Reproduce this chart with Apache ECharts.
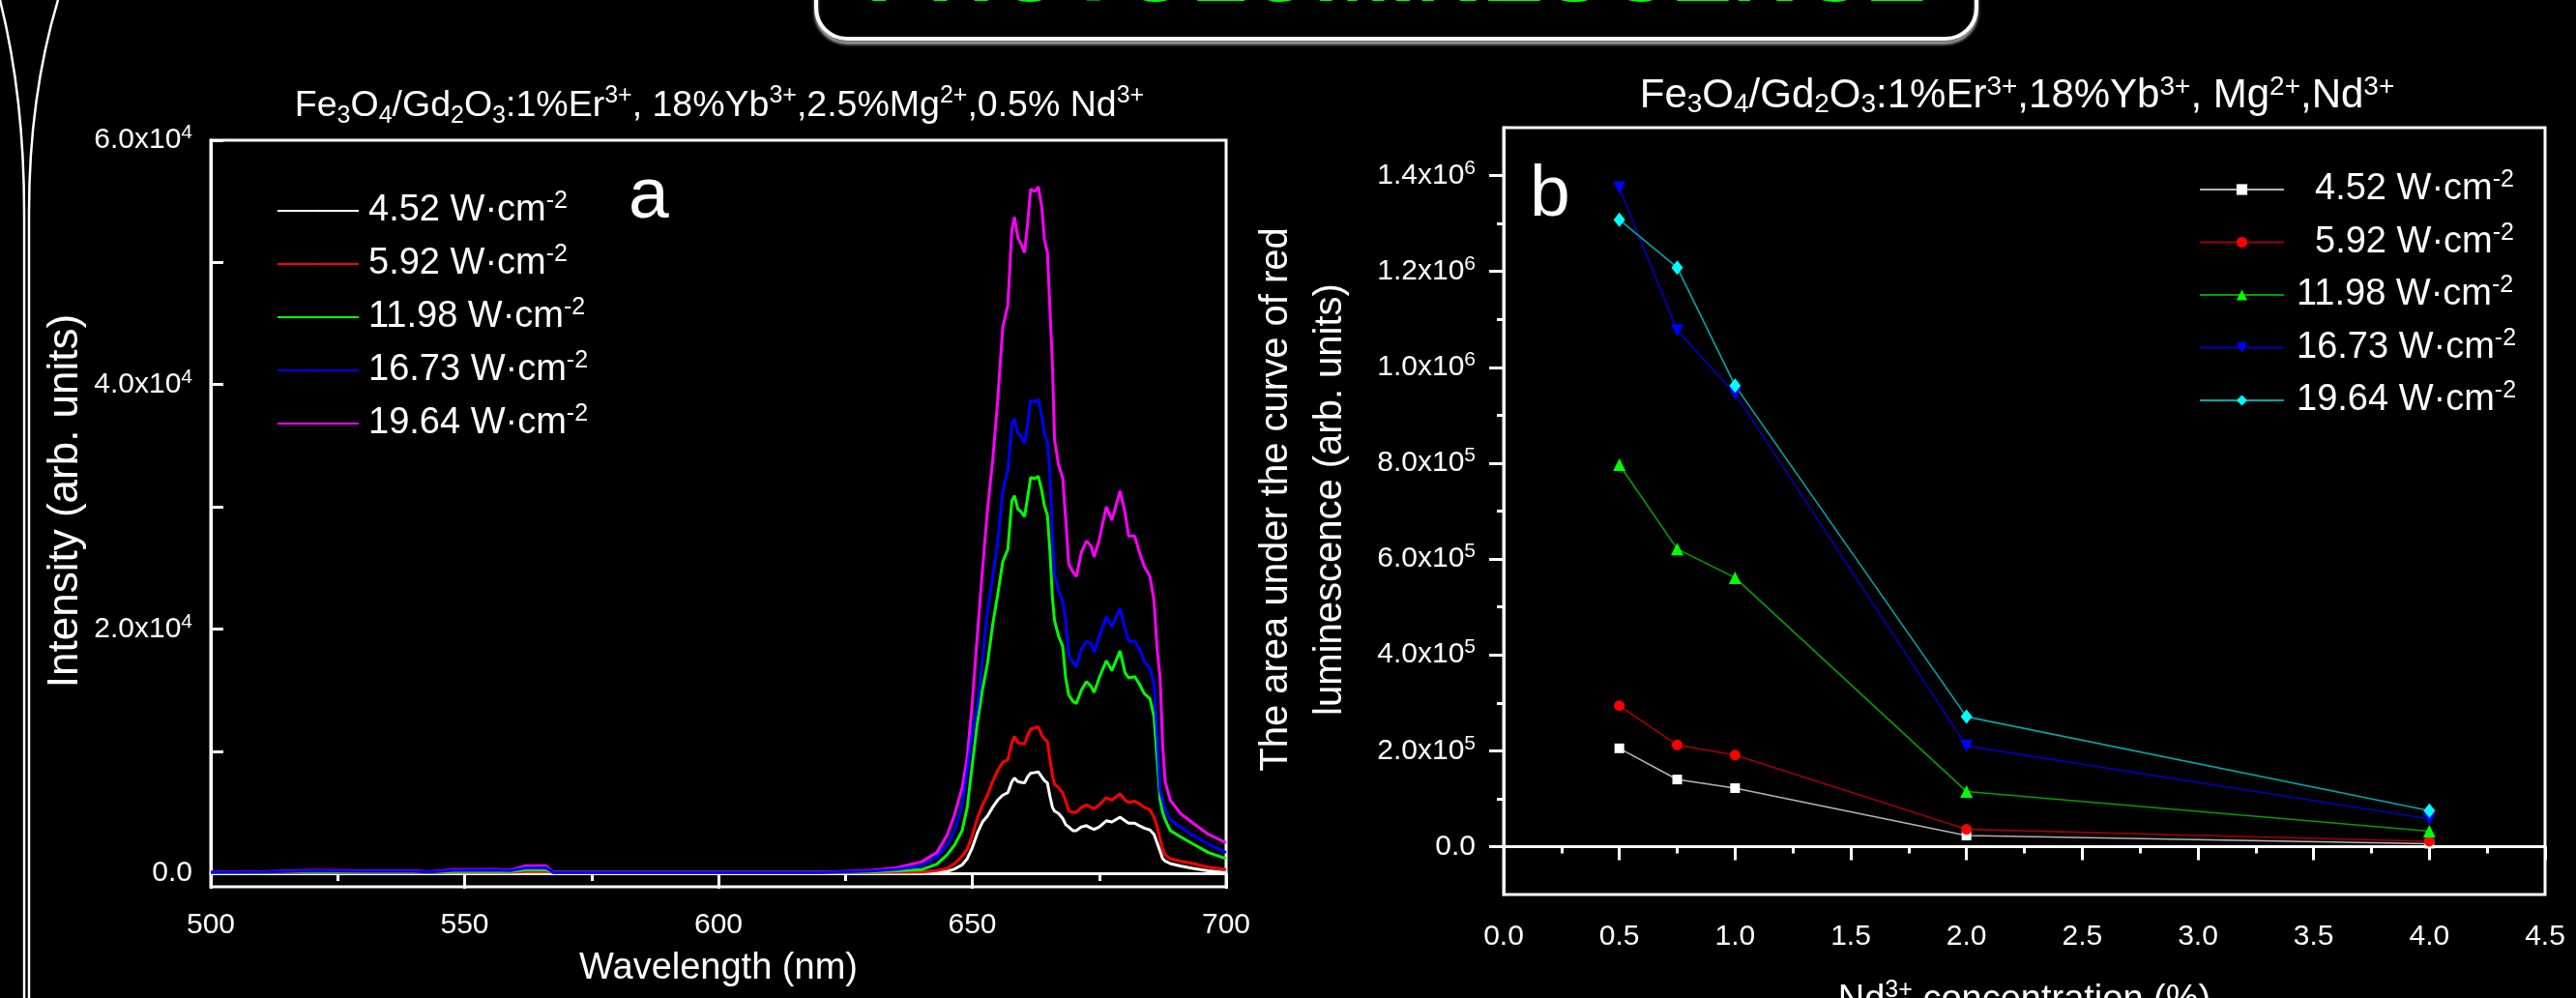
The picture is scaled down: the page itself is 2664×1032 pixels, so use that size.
<!DOCTYPE html>
<html>
<head>
<meta charset="utf-8">
<title>Photoluminescence</title>
<script src="https://cdn.jsdelivr.net/npm/echarts@6/dist/echarts.min.js"></script>
<style>
    html, body { margin: 0; padding: 0; background: #000; }
    #chart { width: 2664px; height: 1032px; }
</style>
</head>
<body>
<div id="chart"></div>
<script>
var FONT = 'Liberation Sans';

// ---- panel a: emission spectra ----
var wavelengths = [500, 510, 520, 530, 540, 543, 548, 556, 559, 562, 566, 567.5, 570, 580, 590, 600, 610, 620, 630, 635,
    640, 643, 645, 646.5, 648, 649, 650, 651, 652, 653,
    654, 655, 656, 657, 657.8, 658.3, 659, 659.6, 660.3, 660.9,
    661.5, 662.3, 663, 663.7, 664.2, 664.8, 665.3, 665.8, 666.2, 667,
    667.8, 668.4, 669, 669.8, 670.5, 671.5, 672.5, 673.4, 674, 675,
    676.4, 677.5, 679.1, 680.1, 680.8, 682, 682.9, 683.9, 685, 685.8,
    686.4, 687, 687.5, 688, 689, 691, 693.5, 696.5, 700];

var int452 = [40, 40, 50, 45, 45, 40, 55, 60, 55, 90, 100, 60, 60, 60, 60, 60, 60, 60, 60, 60,
    70, 100, 150, 350, 700, 1200, 2100, 3300, 4200, 4700,
    5400, 6000, 6400, 6600, 7500, 7800, 7500, 7450, 7400, 7900,
    8200, 8250, 8300, 7900, 7600, 7400, 6300, 5400, 5100, 4900,
    4500, 4000, 3800, 3500, 3500, 3800, 3900, 3700, 3600, 3800,
    4300, 4200, 4600, 4300, 4100, 4100, 3900, 3700, 3550, 3200,
    2500, 1800, 1200, 1000, 800, 600, 400, 200, 50];

var int592 = [40, 45, 70, 60, 60, 50, 80, 90, 80, 150, 170, 60, 60, 60, 60, 60, 60, 60, 70, 80,
    100, 220, 400, 800, 1400, 2000, 3100, 4500, 5600, 6400,
    7500, 8400, 9100, 9300, 10700, 11200, 10700, 10650, 10600, 11300,
    11800, 11900, 12000, 11300, 11000, 10800, 9300, 8000, 7300, 7000,
    6600, 5900, 5100, 5000, 5000, 5400, 5600, 5400, 5300, 5600,
    6200, 6000, 6500, 6000, 5800, 5900, 5700, 5400, 5200, 4600,
    3800, 2800, 2000, 1500, 1200, 1000, 800, 500, 300];

var int1198 = [50, 60, 120, 100, 100, 60, 150, 170, 140, 280, 300, 60, 60, 60, 60, 60, 60, 60, 110, 200,
    300, 750, 1500, 2300, 3500, 5400, 8900, 12300, 15000, 17200,
    20300, 22800, 25500, 26500, 30500, 30900, 29800, 29600, 29200, 30800,
    32400, 32300, 32500, 31300, 30100, 29300, 26300, 22500, 20700, 19400,
    18600, 16000, 14600, 14100, 13900, 15000, 15700, 15300, 14800, 16000,
    17400, 16600, 18200, 16400, 16000, 16100, 15500, 14700, 14300, 12800,
    9400, 6000, 5000, 4400, 3500, 3000, 2400, 1700, 1200];

var int1673 = [80, 100, 200, 160, 170, 100, 250, 270, 220, 450, 470, 70, 70, 70, 70, 70, 70, 70, 180, 330,
    600, 1300, 2300, 3500, 5500, 8400, 11500, 13700, 17500, 21500,
    24200, 27100, 31300, 33000, 36800, 37200, 36000, 35800, 35200, 36800,
    38700, 38600, 38800, 37400, 36000, 35300, 32600, 27600, 24500, 23100,
    22300, 20700, 17800, 17300, 16900, 18400, 19000, 18800, 18100, 19400,
    21000, 20200, 21700, 20000, 19000, 19000, 18400, 17300, 16800, 15500,
    11500, 6800, 6000, 5200, 4400, 3800, 3100, 2400, 1700];

var int1964 = [100, 120, 250, 200, 200, 120, 300, 320, 260, 600, 620, 70, 70, 70, 70, 70, 70, 70, 250, 450,
    950, 1700, 3100, 4800, 7000, 9500, 14000, 19500, 24800, 29800,
    33700, 38700, 44700, 46500, 52700, 53700, 52000, 51500, 50800, 53200,
    56000, 55800, 56200, 54500, 51900, 50800, 46100, 41500, 35500, 33400,
    32400, 29000, 25300, 24700, 24300, 26300, 27200, 26800, 25900, 27300,
    30000, 28900, 31300, 29500, 27600, 27600, 26300, 25100, 24300, 22300,
    18400, 16000, 10500, 7500, 6000, 4900, 4100, 3200, 2500];

var powers = ['4.52', '5.92', '11.98', '16.73', '19.64'];

// ---- panel b: integrated red emission ----
var ndConc = [0.5, 0.75, 1, 2, 4];
var area452 = [205000, 140000, 122000, 23000, 6000];
var area592 = [294000, 212000, 191000, 36000, 11000];
var area1198 = [797000, 621000, 561000, 115000, 32000];
var area1673 = [1375000, 1077000, 945000, 210000, 58000];
var area1964 = [1308000, 1208000, 962000, 271000, 75000];

// tick values
var yTicksA = [0, 10000, 20000, 30000, 40000, 50000, 60000];
var yLabelsA = [0, 20000, 40000, 60000];
var yLabelsB = [0, 200000, 400000, 600000, 800000, 1000000, 1200000, 1400000];
var yMinorB = [100000, 300000, 500000, 700000, 900000, 1100000, 1300000];

var chart = echarts.init(document.getElementById('chart'));

var tickRich = {
    m: {color: '#fff', fontSize: 30, fontFamily: FONT, lineHeight: 36},
    s: {color: '#fff', fontSize: 21, fontFamily: FONT, lineHeight: 18, verticalAlign: 'top'}
};

var formulaRich = function (size) {
    return {
        b: {color: '#fff', fontSize: size, fontFamily: FONT, lineHeight: 46},
        sub: {color: '#fff', fontSize: Math.round(size * 0.66), fontFamily: FONT, lineHeight: 12, verticalAlign: 'bottom'},
        sup: {color: '#fff', fontSize: Math.round(size * 0.66), fontFamily: FONT, lineHeight: 16, verticalAlign: 'top'}
    };
};

// 2.0x10^4 style labels
function sciLabel(v) {
    if (v === 0) {
        return '{m|0.0}';
    }
    var e = Math.floor(Math.log10(v) + 1e-9);
    var m = v / Math.pow(10, e);
    return '{m|' + m.toFixed(1) + 'x10}{s|' + e + '}';
}

function legendText(padShort, padLong) {
    var base = {color: '#fff', fontSize: 38, fontFamily: FONT, lineHeight: 44};
    return {
        color: '#fff',
        fontFamily: FONT,
        fontSize: 38,
        rich: {
            n: echarts.util.extend({padding: [0, 0, 0, padShort]}, base),
            w: echarts.util.extend({padding: [0, 0, 0, padLong]}, base),
            s: {color: '#fff', fontSize: 25, fontFamily: FONT, lineHeight: 19, verticalAlign: 'top'}
        }
    };
}

// "4.52 W·cm-2", short numbers get more left padding so panel b reads right aligned
function powerLabel(name) {
    var p = name.split('|')[1];
    var tag = p.length > 4 ? 'w' : 'n';
    return '{' + tag + '|' + p + ' W·cm}{s|-2}';
}

function spectrumSeries(power, values, color) {
    var pts = [];
    for (var i = 0; i < wavelengths.length; i++) {
        pts.push([wavelengths[i], values[i]]);
    }
    return {
        name: 'a|' + power,
        type: 'line',
        xAxisIndex: 0,
        yAxisIndex: 0,
        data: pts,
        symbol: 'none',
        lineStyle: {color: color, width: 3},
        itemStyle: {color: color},
        z: 3
    };
}

function areaSeries(power, values, lineColor, markColor, symbol, size, rotate) {
    var pts = [];
    for (var i = 0; i < ndConc.length; i++) {
        pts.push([ndConc[i], values[i]]);
    }
    return {
        name: 'b|' + power,
        type: 'line',
        xAxisIndex: 1,
        yAxisIndex: 1,
        data: pts,
        symbol: symbol,
        symbolSize: size,
        symbolRotate: rotate || 0,
        showAllSymbol: true,
        lineStyle: {color: lineColor, width: 1.6},
        itemStyle: {color: markColor},
        z: 3
    };
}

var whiteLine = {color: '#fff', width: 3};

var option = {
    backgroundColor: '#000',
    animation: false,
    title: [
        {
            text: '{b|Fe}{sub|3}{b|O}{sub|4}{b|/Gd}{sub|2}{b|O}{sub|3}{b|:1%Er}{sup|3+}{b|, 18%Yb}{sup|3+}{b|,2.5%Mg}{sup|2+}{b|,0.5% Nd}{sup|3+}',
            left: 744,
            top: 87,
            padding: 0,
            textAlign: 'center',
            textVerticalAlign: 'top',
            textStyle: {color: '#fff', fontSize: 37.5, fontFamily: FONT, fontWeight: 'normal', rich: formulaRich(37.5)}
        },
        {
            text: '{b|Fe}{sub|3}{b|O}{sub|4}{b|/Gd}{sub|2}{b|O}{sub|3}{b|:1%Er}{sup|3+}{b|,18%Yb}{sup|3+}{b|, Mg}{sup|2+}{b|,Nd}{sup|3+}',
            left: 2086,
            top: 76,
            padding: 0,
            textAlign: 'center',
            textVerticalAlign: 'top',
            textStyle: {color: '#fff', fontSize: 42, fontFamily: FONT, fontWeight: 'normal', rich: formulaRich(42)}
        }
    ],
    legend: [
        {
            data: powers.map(function (p) { return 'a|' + p; }),
            orient: 'vertical',
            left: 286,
            top: 196,
            padding: 0,
            itemWidth: 84,
            itemHeight: 3,
            itemGap: 14,
            selectedMode: false,
            formatter: function (name) { return '{n|' + name.split('|')[1] + ' W·cm}{s|-2}'; },
            textStyle: legendText(5, 5)
        },
        {
            data: powers.map(function (p) { return 'b|' + p; }),
            orient: 'vertical',
            left: 2274,
            top: 174,
            padding: 0,
            itemWidth: 87,
            itemHeight: 14,
            itemGap: 13.5,
            selectedMode: false,
            formatter: powerLabel,
            textStyle: legendText(27, 8)
        }
    ],
    grid: [
        {left: 218, top: 145, width: 1050, height: 772, show: true, borderColor: '#fff', borderWidth: 3, containLabel: false, outerBoundsMode: 'none'},
        {left: 1555, top: 132, width: 1077, height: 793, show: true, borderColor: '#fff', borderWidth: 3, containLabel: false, outerBoundsMode: 'none'}
    ],
    xAxis: [
        {
            gridIndex: 0,
            type: 'value',
            min: 500,
            max: 700,
            interval: 50,
            axisLine: {lineStyle: whiteLine},
            axisTick: {length: 16, lineStyle: whiteLine},
            minorTick: {show: true, splitNumber: 2, length: 8, lineStyle: whiteLine},
            splitLine: {show: false},
            axisLabel: {color: '#fff', fontSize: 30, fontFamily: FONT, lineHeight: 36, margin: 22},
            name: 'Wavelength (nm)',
            nameLocation: 'middle',
            nameGap: 54,
            nameTextStyle: {color: '#fff', fontSize: 38, fontFamily: FONT, lineHeight: 44}
        },
        {
            gridIndex: 1,
            type: 'value',
            min: 0,
            max: 4.5,
            interval: 0.5,
            axisLine: {lineStyle: whiteLine},
            axisTick: {length: 14, lineStyle: whiteLine},
            minorTick: {show: true, splitNumber: 2, length: 7, lineStyle: whiteLine},
            splitLine: {show: false},
            axisLabel: {
                color: '#fff', fontSize: 30, fontFamily: FONT, lineHeight: 36, margin: 26,
                formatter: function (v) { return v.toFixed(1); }
            },
            name: '{b|Nd}{sup|3+}{b| concentration (%)}',
            nameLocation: 'middle',
            nameGap: 87,
            nameTextStyle: {color: '#fff', fontSize: 38, fontFamily: FONT, rich: formulaRich(38)}
        }
    ],
    yAxis: [
        {
            gridIndex: 0,
            type: 'value',
            min: -1100,
            max: 60000,
            axisLine: {show: true, lineStyle: whiteLine},
            axisTick: {show: true, inside: true, length: 13, lineStyle: whiteLine, customValues: yTicksA},
            splitLine: {show: false},
            axisLabel: {customValues: yLabelsA, formatter: sciLabel, margin: 19, rich: tickRich},
            name: 'Intensity (arb. units)',
            nameLocation: 'middle',
            nameGap: 121,
            nameTextStyle: {color: '#fff', fontSize: 44, fontFamily: FONT, lineHeight: 50, padding: [0, 0, 0, 26]}
        },
        {
            gridIndex: 1,
            type: 'value',
            min: -100000,
            max: 1500000,
            axisLine: {show: true, lineStyle: whiteLine},
            axisTick: {show: true, length: 15, lineStyle: whiteLine, customValues: yLabelsB},
            splitLine: {show: false},
            axisLabel: {customValues: yLabelsB, formatter: sciLabel, margin: 29, rich: tickRich},
            name: 'The area under the curve of red\nluminescence (arb. units)',
            nameLocation: 'middle',
            nameGap: 151,
            nameTextStyle: {color: '#fff', fontSize: 40, fontFamily: FONT, lineHeight: 56, padding: [0, 0, 0, 24]}
        },
        {
            // minor ticks for panel b
            gridIndex: 1,
            type: 'value',
            min: -100000,
            max: 1500000,
            position: 'left',
            axisLine: {show: false},
            axisTick: {show: true, length: 7, lineStyle: whiteLine, customValues: yMinorB},
            axisLabel: {show: false},
            splitLine: {show: false}
        }
    ],
    graphic: [
        // slide header box, cut by the top edge
        {
            type: 'rect',
            shape: {x: 844, y: -120, width: 1200, height: 160, r: 32},
            style: {fill: 'none', stroke: '#fff', lineWidth: 4, shadowColor: 'rgba(190,190,190,0.9)', shadowOffsetY: 4, shadowBlur: 3},
            z: 1
        },
        {
            type: 'text',
            x: 1444,
            y: -25,
            style: {
                text: 'PHOTOLUMINESCENCE', fill: '#00ff00', font: 'bold 95px "Liberation Sans"',
                textAlign: 'center', textVerticalAlign: 'middle', align: 'center', verticalAlign: 'middle'
            },
            z: 5
        },
        // slide edge ornament
        {type: 'bezierCurve', shape: {x1: 0, y1: 0, cpx1: 25, cpy1: 100, x2: 25, y2: 220}, style: {stroke: '#fff', lineWidth: 2.5, fill: 'none'}},
        {type: 'bezierCurve', shape: {x1: 60, y1: 0, cpx1: 30, cpy1: 100, x2: 30, y2: 220}, style: {stroke: '#fff', lineWidth: 2.5, fill: 'none'}},
        {type: 'line', shape: {x1: 25, y1: 220, x2: 25, y2: 1032}, style: {stroke: '#fff', lineWidth: 2.5}},
        {type: 'line', shape: {x1: 30, y1: 220, x2: 30, y2: 1032}, style: {stroke: '#fff', lineWidth: 2.5}},
        // panel letters
        {
            type: 'text', x: 650, y: 204,
            style: {text: 'a', fill: '#fff', font: '75px "Liberation Sans"', textVerticalAlign: 'middle', verticalAlign: 'middle'}
        },
        {
            type: 'text', x: 1582, y: 202,
            style: {text: 'b', fill: '#fff', font: '75px "Liberation Sans"', textVerticalAlign: 'middle', verticalAlign: 'middle'}
        }
    ],
    series: [
        spectrumSeries('4.52', int452, '#ffffff'),
        spectrumSeries('5.92', int592, '#ff0000'),
        spectrumSeries('11.98', int1198, '#00ff00'),
        spectrumSeries('19.64', int1964, '#ff00ff'),
        spectrumSeries('16.73', int1673, '#0000ff'),
        areaSeries('4.52', area452, '#b4b4b4', '#ffffff', 'rect', 10),
        areaSeries('5.92', area592, '#a00000', '#ff0000', 'circle', 11),
        areaSeries('11.98', area1198, '#00a000', '#00ff00', 'triangle', 13),
        areaSeries('16.73', area1673, '#0000c0', '#0000ff', 'triangle', 13, 180),
        areaSeries('19.64', area1964, '#00a8a8', '#00ffff', 'diamond', [12, 15])
    ]
};

chart.setOption(option);
</script>
</body>
</html>
